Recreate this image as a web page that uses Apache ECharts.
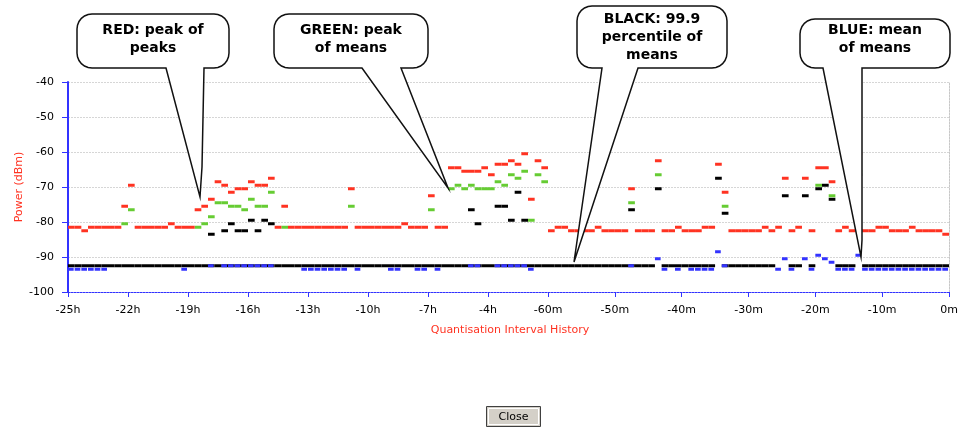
<!DOCTYPE html>
<html>
<head>
<meta charset="utf-8">
<script src="https://cdn.jsdelivr.net/npm/echarts@6/dist/echarts.min.js"></script>
<style>
html, body { margin: 0; padding: 0; background: #fff; }
#chart { width: 961px; height: 429px; }
</style>
</head>
<body>
<div id="chart"></div>
<script>
const _ = null

// left part: 20 minute slots from -25h to -1h (72 slots), dBm
const hourLabels = ['-25h', '-22h', '-19h', '-16h', '-13h', '-10h', '-7h', '-4h', '']
const hourRed = [
  -81.5, -81.5, -82.5, -81.5, -81.5, -81.5, -81.5, -81.5, -75.5, -69.5,
  -81.5, -81.5, -81.5, -81.5, -81.5, -80.5, -81.5, -81.5, -81.5, -76.5,
  -75.5, -73.5, -68.5, -69.5, -71.5, -70.5, -70.5, -68.5, -69.5, -69.5,
  -67.5, -81.5, -75.5, -81.5, -81.5, -81.5, -81.5, -81.5, -81.5, -81.5,
  -81.5, -81.5, -70.5, -81.5, -81.5, -81.5, -81.5, -81.5, -81.5, -81.5,
  -80.5, -81.5, -81.5, -81.5, -72.5, -81.5, -81.5, -64.5, -64.5, -65.5,
  -65.5, -65.5, -64.5, -66.5, -63.5, -63.5, -62.5, -63.5, -60.5, -73.5,
  -62.5, -64.5
]
const hourGreen = [
  _, _, _, _, _, _, _, _, -80.5, -76.5,
  _, _, _, _, _, _, _, _, _, -81.5,
  -80.5, -78.5, -74.5, -74.5, -75.5, -75.5, -76.5, -73.5, -75.5, -75.5,
  -71.5, _, -81.5, _, _, _, _, _, _, _,
  _, _, -75.5, _, _, _, _, _, _, _,
  _, _, _, _, -76.5, _, _, -70.5, -69.5, -70.5,
  -69.5, -70.5, -70.5, -70.5, -68.5, -69.5, -66.5, -67.5, -65.5, -79.5,
  -66.5, -68.5
]
const hourBlack = [
  _, _, _, _, _, _, _, _, _, _,
  _, _, _, _, _, _, _, _, _, _,
  _, -83.5, _, -82.5, -80.5, -82.5, -82.5, -79.5, -82.5, -79.5,
  -80.5, _, _, _, _, _, _, _, _, _,
  _, _, _, _, _, _, _, _, _, _,
  _, _, _, _, _, _, _, _, _, _,
  -76.5, -80.5, _, _, -75.5, -75.5, -79.5, -71.5, -79.5, _,
  _, _
]
const hourBlue = [
  -93.5, -93.5, -93.5, -93.5, -93.5, -93.5, _, _, _, _,
  _, _, _, _, _, _, _, -93.5, _, _,
  _, -92.5, _, -92.5, -92.5, -92.5, -92.5, -92.5, -92.5, -92.5,
  -92.5, _, _, _, _, -93.5, -93.5, -93.5, -93.5, -93.5,
  -93.5, -93.5, _, -93.5, _, _, _, _, -93.5, -93.5,
  _, _, -93.5, -93.5, _, -93.5, _, _, _, _,
  -92.5, -92.5, _, _, -92.5, -92.5, -92.5, -92.5, -92.5, -93.5,
  _, _
]
const hourFloor = [
  -92.5, -92.5, -92.5, -92.5, -92.5, -92.5, -92.5, -92.5, -92.5, -92.5,
  -92.5, -92.5, -92.5, -92.5, -92.5, -92.5, -92.5, -92.5, -92.5, -92.5,
  -92.5, -92.5, -92.5, -92.5, -92.5, -92.5, -92.5, -92.5, -92.5, -92.5,
  -92.5, -92.5, -92.5, -92.5, -92.5, -92.5, -92.5, -92.5, -92.5, -92.5,
  -92.5, -92.5, -92.5, -92.5, -92.5, -92.5, -92.5, -92.5, -92.5, -92.5,
  -92.5, -92.5, -92.5, -92.5, -92.5, -92.5, -92.5, -92.5, -92.5, -92.5,
  -92.5, -92.5, -92.5, -92.5, -92.5, -92.5, -92.5, -92.5, -92.5, -92.5,
  -92.5, -92.5
]

// right part: 1 minute slots from -60m to 0m (60 slots), dBm
const minuteLabels = ['-60m', '-50m', '-40m', '-30m', '-20m', '-10m', '0m']
const minuteRed = [
  -82.5, -81.5, -81.5, -82.5, -82.5, -82.5, -82.5, -81.5, -82.5, -82.5,
  -82.5, -82.5, -70.5, -82.5, -82.5, -82.5, -62.5, -82.5, -82.5, -81.5,
  -82.5, -82.5, -82.5, -81.5, -81.5, -63.5, -71.5, -82.5, -82.5, -82.5,
  -82.5, -82.5, -81.5, -82.5, -81.5, -67.5, -82.5, -81.5, -67.5, -82.5,
  -64.5, -64.5, -68.5, -82.5, -81.5, -82.5, -60.5, -82.5, -82.5, -81.5,
  -81.5, -82.5, -82.5, -82.5, -81.5, -82.5, -82.5, -82.5, -82.5, -83.5
]
const minuteGreen = [
  _, _, _, _, _, _, _, _, _, _,
  _, _, -74.5, _, _, _, -66.5, _, _, _,
  _, _, _, _, _, _, -75.5, _, _, _,
  _, _, _, _, _, _, _, _, _, _,
  -69.5, _, -72.5, _, _, _, -65.5, _, _, _,
  _, _, _, _, _, _, _, _, _, _
]
const minuteBlack = [
  _, _, _, _, _, _, _, _, _, _,
  _, _, -76.5, _, _, _, -70.5, _, _, _,
  _, _, _, _, _, -67.5, -77.5, _, _, _,
  _, _, _, _, _, -72.5, _, _, -72.5, _,
  -70.5, -69.5, -73.5, _, _, _, -66.5, _, _, _,
  _, _, _, _, _, _, _, _, _, _
]
const minuteBlue = [
  _, _, _, _, _, _, _, _, _, _,
  _, _, -92.5, _, _, _, -90.5, -93.5, _, -93.5,
  _, -93.5, -93.5, -93.5, -93.5, -88.5, -92.5, _, _, _,
  _, _, _, _, -93.5, -90.5, -93.5, _, -90.5, -93.5,
  -89.5, -90.5, -91.5, -93.5, -93.5, -93.5, -89.5, -93.5, -93.5, -93.5,
  -93.5, -93.5, -93.5, -93.5, -93.5, -93.5, -93.5, -93.5, -93.5, -93.5
]
const minuteFloor = [
  -92.5, -92.5, -92.5, -92.5, -92.5, -92.5, -92.5, -92.5, -92.5, -92.5,
  -92.5, -92.5, -92.5, -92.5, -92.5, -92.5, _, -92.5, -92.5, -92.5,
  -92.5, -92.5, -92.5, -92.5, -92.5, _, -92.5, -92.5, -92.5, -92.5,
  -92.5, -92.5, -92.5, -92.5, _, _, -92.5, -92.5, _, -92.5,
  _, _, _, -92.5, -92.5, -92.5, _, -92.5, -92.5, -92.5,
  -92.5, -92.5, -92.5, -92.5, -92.5, -92.5, -92.5, -92.5, -92.5, -92.5
]

const RED = '#ff3322'
const GREEN = '#66cc33'
const BLACK = '#000000'
const BLUE = '#3333ff'
const FONT = 'DejaVu Sans'

// one short horizontal dash per slot, drawn through the axes
function dashes(values, axis, start, step, color, z, gap) {
  const data = []
  values.forEach((v, i) => {
    if (v !== null) data.push([start + i * step, v])
  })
  return {
    type: 'custom',
    xAxisIndex: axis,
    yAxisIndex: axis,
    z: z,
    silent: true,
    encode: { x: 0, y: 1 },
    data: data,
    renderItem(params, api) {
      const a = api.coord([api.value(0), api.value(1)])
      const b = api.coord([api.value(0) + step, api.value(1)])
      return {
        type: 'rect',
        shape: { x: a[0], y: a[1] - 1.5, width: b[0] - a[0] - gap, height: 3 },
        style: { fill: color }
      }
    }
  }
}

// quarter circle corner points
function corner(cx, cy, r, from) {
  const pts = []
  for (let i = 0; i <= 6; i++) {
    const t = (from + i * 15) * Math.PI / 180
    pts.push([cx + r * Math.cos(t), cy + r * Math.sin(t)])
  }
  return pts
}

// rounded box with a tail, clockwise from the top-left corner
function bubblePoints(x, y, w, h, r, baseR, tail, baseL) {
  return [].concat(
    corner(x + r, y + r, r, 180),
    corner(x + w - r, y + r, r, 270),
    corner(x + w - r, y + h - r, r, 0),
    [[baseR, y + h]],
    tail,
    [[baseL, y + h]],
    corner(x + r, y + h - r, r, 90)
  )
}

function bubble(x, y, w, h, baseR, tail, baseL, text, ty) {
  return [
    {
      type: 'polygon',
      z: 100,
      shape: { points: bubblePoints(x, y, w, h, 15, baseR, tail, baseL) },
      style: { fill: '#fff', stroke: '#111', lineWidth: 1.5 }
    },
    {
      type: 'text',
      z: 101,
      style: {
        text: text,
        x: x + w / 2,
        y: ty,
        align: 'center',
        verticalAlign: 'middle',
        fill: '#000',
        font: 'bold 14px "DejaVu Sans"',
        lineHeight: 18
      }
    }
  ]
}

const axisLabelStyle = { color: '#000', fontSize: 11, fontFamily: FONT }
const gridLine = { show: true, lineStyle: { color: '#d6d6d6', type: [2, 1] } }

const myChart = echarts.init(document.getElementById('chart'))
myChart.setOption({
  animation: false,
  grid: [
    { left: 68, right: 413, top: 82, bottom: 137, containLabel: false, outerBoundsMode: 'none' },
    { left: 548, right: 12, top: 82, bottom: 137, containLabel: false, outerBoundsMode: 'none' }
  ],
  xAxis: [
    {
      gridIndex: 0,
      type: 'value',
      min: 0,
      max: 24,
      interval: 3,
      axisLine: { lineStyle: { color: BLUE, type: [2, 1] } },
      axisTick: { length: 5, lineStyle: { color: BLUE } },
      axisLabel: Object.assign({ margin: 13, formatter: v => hourLabels[Math.round(v / 3)] }, axisLabelStyle),
      splitLine: { show: false }
    },
    {
      gridIndex: 1,
      type: 'value',
      min: -60,
      max: 0,
      interval: 10,
      axisLine: { lineStyle: { color: BLUE, type: [2, 1] } },
      axisTick: { length: 5, lineStyle: { color: BLUE } },
      axisLabel: Object.assign({ margin: 13, formatter: v => minuteLabels[Math.round((v + 60) / 10)] }, axisLabelStyle),
      splitLine: { show: false }
    }
  ],
  yAxis: [
    {
      gridIndex: 0,
      type: 'value',
      min: -100,
      max: -40,
      interval: 10,
      name: 'Power (dBm)',
      nameLocation: 'middle',
      nameGap: 43,
      nameTextStyle: { color: RED, fontSize: 11, fontFamily: FONT },
      axisLine: { show: true, lineStyle: { color: BLUE, width: 2 } },
      axisTick: { show: true, length: 6, lineStyle: { color: BLUE } },
      axisLabel: Object.assign({ margin: 14 }, axisLabelStyle),
      splitLine: gridLine
    },
    {
      gridIndex: 1,
      type: 'value',
      min: -100,
      max: -40,
      interval: 10,
      axisLine: { show: true, lineStyle: { color: '#c8c8c8', type: [2, 1] } },
      axisTick: { show: false },
      axisLabel: { show: false },
      splitLine: gridLine
    }
  ],
  series: [
    dashes(hourFloor, 0, 0, 1 / 3, BLACK, 2, 0),
    dashes(hourBlack, 0, 0, 1 / 3, BLACK, 3, 0),
    dashes(hourGreen, 0, 0, 1 / 3, GREEN, 4, 0),
    dashes(hourRed, 0, 0, 1 / 3, RED, 5, 0),
    dashes(hourBlue, 0, 0, 1 / 3, BLUE, 6, 1),
    dashes(minuteFloor, 1, -60, 1, BLACK, 2, 0),
    dashes(minuteBlack, 1, -60, 1, BLACK, 3, 0),
    dashes(minuteGreen, 1, -60, 1, GREEN, 4, 0),
    dashes(minuteRed, 1, -60, 1, RED, 5, 0),
    dashes(minuteBlue, 1, -60, 1, BLUE, 6, 1)
  ],
  graphic: [
    ...bubble(77, 14, 152, 54, 204, [[202, 167], [200, 197]], 166, 'RED: peak of\npeaks', 39),
    ...bubble(274, 14, 154, 54, 401, [[448, 188]], 362, 'GREEN: peak\nof means', 39),
    ...bubble(577, 6, 150, 62, 638, [[574, 262]], 602, 'BLACK: 99.9\npercentile of\nmeans', 37),
    ...bubble(800, 19, 150, 49, 862, [[862, 240], [861, 257]], 823, 'BLUE: mean\nof means', 39),
    {
      type: 'text',
      style: {
        text: 'Quantisation Interval History',
        x: 510,
        y: 330,
        align: 'center',
        verticalAlign: 'middle',
        fill: RED,
        font: '11px "DejaVu Sans"'
      }
    },
    {
      type: 'rect',
      shape: { x: 486.5, y: 406.5, width: 54, height: 20 },
      style: { fill: '#d4d0c8', stroke: '#404040', lineWidth: 1 }
    },
    {
      type: 'rect',
      shape: { x: 488.5, y: 408.5, width: 50, height: 16 },
      style: { fill: 'none', stroke: '#ffffff', lineWidth: 1 }
    },
    {
      type: 'text',
      style: {
        text: 'Close',
        x: 513.5,
        y: 417,
        align: 'center',
        verticalAlign: 'middle',
        fill: '#000',
        font: '11px "DejaVu Sans"'
      }
    }
  ]
})
</script>
</body>
</html>
